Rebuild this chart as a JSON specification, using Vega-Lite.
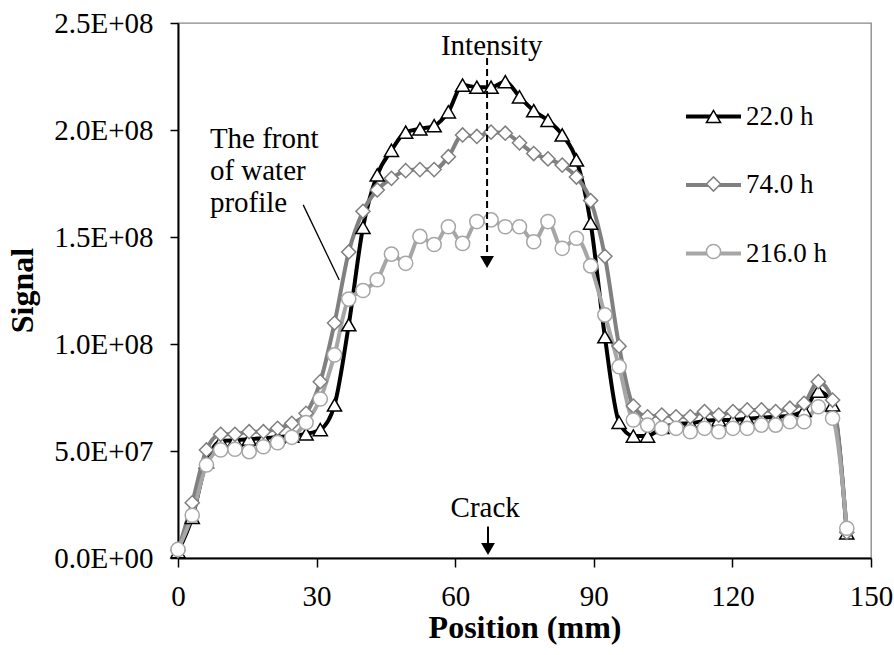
{
  "$schema": "https://vega.github.io/schema/vega-lite/v6.json",
  "width": 693,
  "height": 535,
  "autosize": {"type": "none"},
  "padding": {"left": 178, "top": 23, "right": 23, "bottom": 97},
  "background": "white",
  "config": {
    "font": "Liberation Serif",
    "view": {"stroke": "#868686", "strokeWidth": 1.3},
    "axis": {
      "grid": false,
      "domainColor": "black",
      "domainWidth": 2,
      "tickColor": "black",
      "tickWidth": 1.5,
      "labelColor": "black",
      "labelFont": "Liberation Serif",
      "labelFontSize": 29,
      "titleFont": "Liberation Serif",
      "titleFontSize": 32,
      "titleFontWeight": "bold",
      "titleColor": "black"
    },
    "legend": {"padding": 0, "titlePadding": 0}
  },
  "datasets": {
    "series": [
      {"s":"22.0 h","x":0,"y":3000000},{"s":"22.0 h","x":3.08,"y":19000000},{"s":"22.0 h","x":6.16,"y":45000000},{"s":"22.0 h","x":9.24,"y":54500000},{"s":"22.0 h","x":12.32,"y":55000000},{"s":"22.0 h","x":15.4,"y":55500000},{"s":"22.0 h","x":18.48,"y":56000000},{"s":"22.0 h","x":21.56,"y":56500000},{"s":"22.0 h","x":24.64,"y":57000000},{"s":"22.0 h","x":27.72,"y":58000000},{"s":"22.0 h","x":30.8,"y":60000000},{"s":"22.0 h","x":33.88,"y":71500000},{"s":"22.0 h","x":36.96,"y":109000000},{"s":"22.0 h","x":40.04,"y":154500000},{"s":"22.0 h","x":43.12,"y":179000000},{"s":"22.0 h","x":46.2,"y":190500000},{"s":"22.0 h","x":49.28,"y":199000000},{"s":"22.0 h","x":52.36,"y":200500000},{"s":"22.0 h","x":55.44,"y":202000000},{"s":"22.0 h","x":58.52,"y":208500000},{"s":"22.0 h","x":61.6,"y":221000000},{"s":"22.0 h","x":64.68,"y":220000000},{"s":"22.0 h","x":67.76,"y":220000000},{"s":"22.0 h","x":70.84,"y":222600000},{"s":"22.0 h","x":73.92,"y":215500000},{"s":"22.0 h","x":77,"y":209000000},{"s":"22.0 h","x":80.08,"y":204500000},{"s":"22.0 h","x":83.16,"y":197700000},{"s":"22.0 h","x":86.24,"y":186000000},{"s":"22.0 h","x":89.32,"y":156500000},{"s":"22.0 h","x":92.4,"y":103400000},{"s":"22.0 h","x":95.48,"y":63400000},{"s":"22.0 h","x":98.56,"y":57000000},{"s":"22.0 h","x":101.64,"y":57000000},{"s":"22.0 h","x":104.72,"y":61000000},{"s":"22.0 h","x":107.8,"y":62500000},{"s":"22.0 h","x":110.88,"y":63000000},{"s":"22.0 h","x":113.96,"y":64000000},{"s":"22.0 h","x":117.04,"y":64500000},{"s":"22.0 h","x":120.12,"y":64500000},{"s":"22.0 h","x":123.2,"y":65000000},{"s":"22.0 h","x":126.28,"y":65500000},{"s":"22.0 h","x":129.36,"y":66000000},{"s":"22.0 h","x":132.44,"y":66500000},{"s":"22.0 h","x":135.52,"y":69000000},{"s":"22.0 h","x":138.6,"y":78000000},{"s":"22.0 h","x":141.68,"y":71500000},{"s":"22.0 h","x":144.76,"y":11700000},
      {"s":"74.0 h","x":0,"y":3500000},{"s":"74.0 h","x":3.08,"y":25800000},{"s":"74.0 h","x":6.16,"y":50500000},{"s":"74.0 h","x":9.24,"y":57800000},{"s":"74.0 h","x":12.32,"y":57800000},{"s":"74.0 h","x":15.4,"y":59000000},{"s":"74.0 h","x":18.48,"y":59000000},{"s":"74.0 h","x":21.56,"y":60600000},{"s":"74.0 h","x":24.64,"y":62900000},{"s":"74.0 h","x":27.72,"y":67600000},{"s":"74.0 h","x":30.8,"y":82400000},{"s":"74.0 h","x":33.88,"y":109800000},{"s":"74.0 h","x":36.96,"y":143000000},{"s":"74.0 h","x":40.04,"y":162000000},{"s":"74.0 h","x":43.12,"y":172000000},{"s":"74.0 h","x":46.2,"y":177400000},{"s":"74.0 h","x":49.28,"y":181000000},{"s":"74.0 h","x":52.36,"y":181500000},{"s":"74.0 h","x":55.44,"y":181500000},{"s":"74.0 h","x":58.52,"y":187500000},{"s":"74.0 h","x":61.6,"y":197700000},{"s":"74.0 h","x":64.68,"y":197000000},{"s":"74.0 h","x":67.76,"y":199000000},{"s":"74.0 h","x":70.84,"y":198500000},{"s":"74.0 h","x":73.92,"y":194000000},{"s":"74.0 h","x":77,"y":189000000},{"s":"74.0 h","x":80.08,"y":186500000},{"s":"74.0 h","x":83.16,"y":183600000},{"s":"74.0 h","x":86.24,"y":178000000},{"s":"74.0 h","x":89.32,"y":167000000},{"s":"74.0 h","x":92.4,"y":141000000},{"s":"74.0 h","x":95.48,"y":99000000},{"s":"74.0 h","x":98.56,"y":71000000},{"s":"74.0 h","x":101.64,"y":66000000},{"s":"74.0 h","x":104.72,"y":66800000},{"s":"74.0 h","x":107.8,"y":66000000},{"s":"74.0 h","x":110.88,"y":66000000},{"s":"74.0 h","x":113.96,"y":68400000},{"s":"74.0 h","x":117.04,"y":66800000},{"s":"74.0 h","x":120.12,"y":68400000},{"s":"74.0 h","x":123.2,"y":69200000},{"s":"74.0 h","x":126.28,"y":69200000},{"s":"74.0 h","x":129.36,"y":68400000},{"s":"74.0 h","x":132.44,"y":70000000},{"s":"74.0 h","x":135.52,"y":72300000},{"s":"74.0 h","x":138.6,"y":82400000},{"s":"74.0 h","x":141.68,"y":73800000},{"s":"74.0 h","x":144.76,"y":12000000},
      {"s":"216.0 h","x":0,"y":4000000},{"s":"216.0 h","x":3.08,"y":20000000},{"s":"216.0 h","x":6.16,"y":43500000},{"s":"216.0 h","x":9.24,"y":50500000},{"s":"216.0 h","x":12.32,"y":50800000},{"s":"216.0 h","x":15.4,"y":49700000},{"s":"216.0 h","x":18.48,"y":52000000},{"s":"216.0 h","x":21.56,"y":53900000},{"s":"216.0 h","x":24.64,"y":56400000},{"s":"216.0 h","x":27.72,"y":63300000},{"s":"216.0 h","x":30.8,"y":74300000},{"s":"216.0 h","x":33.88,"y":94900000},{"s":"216.0 h","x":36.96,"y":121000000},{"s":"216.0 h","x":40.04,"y":125000000},{"s":"216.0 h","x":43.12,"y":130000000},{"s":"216.0 h","x":46.2,"y":142000000},{"s":"216.0 h","x":49.28,"y":137700000},{"s":"216.0 h","x":52.36,"y":150300000},{"s":"216.0 h","x":55.44,"y":146500000},{"s":"216.0 h","x":58.52,"y":154800000},{"s":"216.0 h","x":61.6,"y":147000000},{"s":"216.0 h","x":64.68,"y":157200000},{"s":"216.0 h","x":67.76,"y":158000000},{"s":"216.0 h","x":70.84,"y":154800000},{"s":"216.0 h","x":73.92,"y":154800000},{"s":"216.0 h","x":77,"y":147800000},{"s":"216.0 h","x":80.08,"y":157200000},{"s":"216.0 h","x":83.16,"y":144700000},{"s":"216.0 h","x":86.24,"y":149400000},{"s":"216.0 h","x":89.32,"y":136500000},{"s":"216.0 h","x":92.4,"y":113600000},{"s":"216.0 h","x":95.48,"y":89400000},{"s":"216.0 h","x":98.56,"y":64500000},{"s":"216.0 h","x":101.64,"y":62100000},{"s":"216.0 h","x":104.72,"y":60600000},{"s":"216.0 h","x":107.8,"y":60600000},{"s":"216.0 h","x":110.88,"y":59000000},{"s":"216.0 h","x":113.96,"y":60600000},{"s":"216.0 h","x":117.04,"y":59000000},{"s":"216.0 h","x":120.12,"y":60600000},{"s":"216.0 h","x":123.2,"y":60600000},{"s":"216.0 h","x":126.28,"y":62100000},{"s":"216.0 h","x":129.36,"y":62100000},{"s":"216.0 h","x":132.44,"y":63700000},{"s":"216.0 h","x":135.52,"y":63700000},{"s":"216.0 h","x":138.6,"y":70700000},{"s":"216.0 h","x":141.68,"y":65300000},{"s":"216.0 h","x":144.76,"y":13900000}
    ],
    "centerLabels": [
      {"label": "Intensity", "x": 67.9, "y": 235000000},
      {"label": "Crack", "x": 66.5, "y": 19300000}
    ],
    "leftLabels": [
      {"label": "The front", "x": 6.9, "y": 191500000},
      {"label": "of water", "x": 6.9, "y": 176600000},
      {"label": "profile", "x": 6.9, "y": 161700000}
    ],
    "leader": [{"x": 27.1, "y": 165000000, "x2": 34.9, "y2": 129900000}],
    "dashed": [{"x": 66.9, "y": 233600000, "y2": 141500000}],
    "shaft": [{"x": 67.1, "y": 14700000, "y2": 7000000}],
    "heads": [{"x": 66.9, "y": 138300000}, {"x": 67.1, "y": 4200000}]
  },
  "layer": [
    {
      "data": {"name": "series"},
      "mark": {"type": "line", "strokeWidth": 4, "interpolate": "monotone"},
      "encoding": {
        "x": {"field": "x", "type": "quantitative", "scale": {"domain": [0, 150], "nice": false},
          "axis": {"title": "Position (mm)", "values": [0, 30, 60, 90, 120, 150], "tickSize": 9, "labelPadding": 15, "labelFlush": false, "titleY": 79, "titleBaseline": "alphabetic"}},
        "y": {"field": "y", "type": "quantitative", "scale": {"domain": [0, 250000000], "nice": false},
          "axis": {"title": "Signal", "values": [0, 50000000, 100000000, 150000000, 200000000, 250000000], "tickSize": 8, "labelPadding": 17,
            "labelExpr": "datum.value == 0 ? '0.0E+00' : (datum.value < 100000000 ? format(datum.value / 10000000, '.1f') + 'E+07' : format(datum.value / 100000000, '.1f') + 'E+08')",
            "titleX": -156, "titleY": 267, "titleAngle": 270, "titleBaseline": "middle", "titleAlign": "center"}},
        "color": {"field": "s", "type": "nominal", "sort": ["22.0 h", "74.0 h", "216.0 h"],
          "scale": {"range": ["#000000", "#808080", "#a6a6a6"]},
          "legend": {"orient": "none", "legendX": 506, "legendY": 64, "title": null, "direction": "vertical",
            "symbolType": "stroke", "symbolSize": 3025, "symbolStrokeWidth": 4,
            "labelFont": "Liberation Serif", "labelFontSize": 27, "labelColor": "black", "labelOffset": 3, "labelLimit": 300,
            "rowPadding": 25.5, "padding": 0}}
      }
    },
    {
      "data": {"name": "series"},
      "mark": {"type": "point", "filled": true, "fill": "white", "opacity": 1, "strokeWidth": 1.5, "size": 200},
      "encoding": {
        "x": {"field": "x", "type": "quantitative"},
        "y": {"field": "y", "type": "quantitative"},
        "shape": {"field": "s", "type": "nominal",
          "scale": {"domain": ["22.0 h", "74.0 h", "216.0 h"], "range": ["triangle-up", "diamond", "circle"]},
          "legend": {"orient": "none", "legendX": 522, "legendY": 80, "title": null, "direction": "vertical",
            "symbolSize": 200, "symbolStrokeWidth": 1.5, "symbolFillColor": "white",
            "labelFontSize": 27, "labelExpr": "''", "rowPadding": 39.5, "padding": 0}},
        "stroke": {"field": "s", "type": "nominal",
          "scale": {"domain": ["22.0 h", "74.0 h", "216.0 h"], "range": ["#000000", "#7f7f7f", "#a6a6a6"]},
          "legend": {"orient": "none", "legendX": 522, "legendY": 80, "title": null, "direction": "vertical",
            "symbolSize": 200, "symbolStrokeWidth": 1.5, "symbolFillColor": "white",
            "labelFontSize": 27, "labelExpr": "''", "rowPadding": 39.5, "padding": 0}}
      }
    },
    {
      "data": {"name": "leader"},
      "mark": {"type": "rule", "color": "black", "strokeWidth": 1.3},
      "encoding": {
        "x": {"field": "x", "type": "quantitative"},
        "y": {"field": "y", "type": "quantitative"},
        "x2": {"field": "x2"},
        "y2": {"field": "y2"}
      }
    },
    {
      "data": {"name": "dashed"},
      "mark": {"type": "rule", "color": "black", "strokeWidth": 2, "strokeDash": [7, 4]},
      "encoding": {
        "x": {"field": "x", "type": "quantitative"},
        "y": {"field": "y", "type": "quantitative"},
        "y2": {"field": "y2"}
      }
    },
    {
      "data": {"name": "shaft"},
      "mark": {"type": "rule", "color": "black", "strokeWidth": 2},
      "encoding": {
        "x": {"field": "x", "type": "quantitative"},
        "y": {"field": "y", "type": "quantitative"},
        "y2": {"field": "y2"}
      }
    },
    {
      "data": {"name": "heads"},
      "mark": {"type": "point", "shape": "triangle-down", "filled": true, "color": "black", "opacity": 1, "size": 190},
      "encoding": {
        "x": {"field": "x", "type": "quantitative"},
        "y": {"field": "y", "type": "quantitative"}
      }
    },
    {
      "data": {"name": "centerLabels"},
      "mark": {"type": "text", "font": "Liberation Serif", "fontSize": 29, "align": "center", "baseline": "alphabetic", "color": "black"},
      "encoding": {
        "x": {"field": "x", "type": "quantitative"},
        "y": {"field": "y", "type": "quantitative"},
        "text": {"field": "label"}
      }
    },
    {
      "data": {"name": "leftLabels"},
      "mark": {"type": "text", "font": "Liberation Serif", "fontSize": 29, "align": "left", "baseline": "alphabetic", "color": "black"},
      "encoding": {
        "x": {"field": "x", "type": "quantitative"},
        "y": {"field": "y", "type": "quantitative"},
        "text": {"field": "label"}
      }
    }
  ]
}
